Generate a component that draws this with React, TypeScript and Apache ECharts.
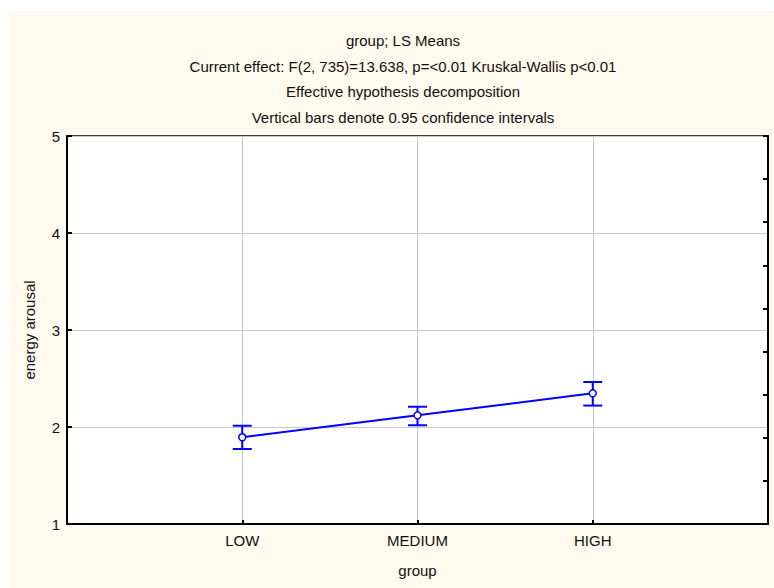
import React, { useEffect, useRef } from "react";
import * as echarts from "echarts";

// LS means of energy arousal per group, with 0.95 confidence limits
const categories = ["LOW", "MEDIUM", "HIGH"];
const means = [1.894, 2.12, 2.347];
const ciLower = [1.773, 2.018, 2.221];
const ciUpper = [2.013, 2.209, 2.464];

const titleLines = [
  "group; LS Means",
  "Current effect: F(2, 735)=13.638, p=<0.01 Kruskal-Wallis p<0.01",
  "Effective hypothesis decomposition",
  "Vertical bars denote 0.95 confidence intervals",
];
const yTicks = [1, 2, 3, 4, 5];

const FONT = "'Liberation Sans', Arial, sans-serif";
const INK = "#111111";
const BLUE = "#0000ff";

export default function App() {
  const ref = useRef<HTMLDivElement>(null);

  useEffect(() => {
    if (!ref.current) return;
    const chart = echarts.init(ref.current, null, { renderer: "svg" });

    const points = means.map((m, i) => [i + 1, m]);
    const bars = categories.map((_, i) => [i + 1, ciLower[i], ciUpper[i]]);

    chart.setOption({
      animation: false,
      backgroundColor: "#ffffff",
      textStyle: { fontFamily: FONT },
      graphic: [
        {
          type: "rect",
          z: -10,
          silent: true,
          shape: { x: 9, y: 11, width: 800, height: 600 },
          style: { fill: "#fff9ee" },
        },
      ],
      title: {
        text: titleLines.join("\n"),
        left: 398,
        top: 23,
        textAlign: "center",
        textStyle: {
          fontFamily: FONT,
          fontSize: 15,
          fontWeight: "normal",
          color: INK,
          lineHeight: 25.5,
        },
      },
      grid: {
        left: 67,
        top: 136,
        width: 701,
        height: 388,
        show: true,
        backgroundColor: "#ffffff",
        borderColor: "#000000",
        borderWidth: 1.5,
        containLabel: false,
      },
      xAxis: [
        {
          type: "value",
          min: 0,
          max: 4,
          interval: 1,
          name: "group",
          nameLocation: "middle",
          nameGap: 39,
          nameTextStyle: { fontFamily: FONT, fontSize: 15, color: INK },
          axisLine: { show: true, lineStyle: { color: "#000", width: 2 } },
          axisTick: {
            show: true,
            inside: true,
            length: 4,
            lineStyle: { color: "#000", width: 2 },
          },
          axisLabel: {
            margin: 9,
            fontFamily: FONT,
            fontSize: 15,
            color: INK,
            formatter: (v: number) => categories[v - 1] ?? "",
          },
          splitLine: { show: true, lineStyle: { color: "#c8c8c8", width: 1 } },
        },
      ],
      yAxis: [
        {
          type: "value",
          min: yTicks[0],
          max: yTicks[yTicks.length - 1],
          interval: 1,
          position: "left",
          name: "energy arousal",
          nameLocation: "middle",
          nameRotate: 90,
          nameGap: 30,
          nameTextStyle: { fontFamily: FONT, fontSize: 15, color: INK },
          axisLine: { show: true, lineStyle: { color: "#000", width: 2 } },
          axisTick: {
            show: true,
            inside: true,
            length: 5,
            lineStyle: { color: "#000", width: 2 },
          },
          axisLabel: {
            margin: 7,
            fontFamily: FONT,
            fontSize: 15,
            color: INK,
          },
          splitLine: { show: true, lineStyle: { color: "#c8c8c8", width: 1 } },
        },
        {
          // minor tick scale along the right edge
          type: "value",
          min: 0,
          max: 9,
          interval: 1,
          position: "right",
          axisLine: { show: true, lineStyle: { color: "#000", width: 2 } },
          axisTick: {
            show: true,
            inside: true,
            length: 5,
            lineStyle: { color: "#000", width: 2 },
          },
          axisLabel: { show: false },
          splitLine: { show: false },
        },
      ],
      series: [
        {
          type: "custom",
          xAxisIndex: 0,
          yAxisIndex: 0,
          z: 2,
          data: bars,
          renderItem: (_params: any, api: any) => {
            const x = api.value(0);
            const lo = api.coord([x, api.value(1)]);
            const hi = api.coord([x, api.value(2)]);
            const half = 9.5;
            const style = { stroke: BLUE, lineWidth: 2 };
            return {
              type: "group",
              children: [
                {
                  type: "line",
                  shape: { x1: lo[0], y1: lo[1], x2: hi[0], y2: hi[1] },
                  style,
                },
                {
                  type: "line",
                  shape: { x1: hi[0] - half, y1: hi[1], x2: hi[0] + half, y2: hi[1] },
                  style,
                },
                {
                  type: "line",
                  shape: { x1: lo[0] - half, y1: lo[1], x2: lo[0] + half, y2: lo[1] },
                  style,
                },
              ],
            };
          },
        },
        {
          type: "line",
          xAxisIndex: 0,
          yAxisIndex: 0,
          z: 3,
          data: points,
          symbol: "circle",
          symbolSize: 7,
          showAllSymbol: true,
          lineStyle: { color: BLUE, width: 2 },
          itemStyle: { color: "#ffffff", borderColor: BLUE, borderWidth: 1.5 },
        },
      ],
    });

    return () => chart.dispose();
  }, []);

  return (
    <div
      ref={ref}
      style={{ position: "absolute", left: 0, top: 0, width: 774, height: 588 }}
    />
  );
}
